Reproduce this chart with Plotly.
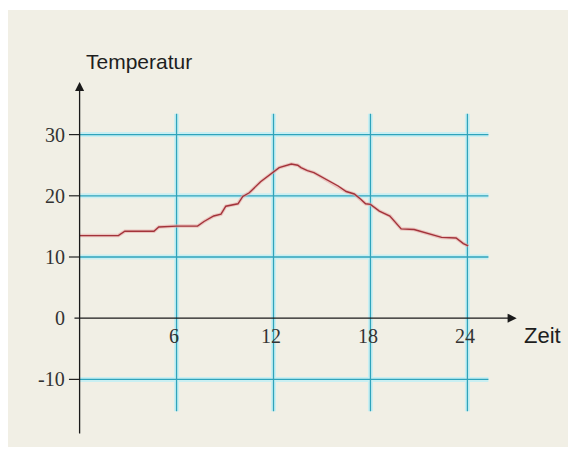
import plotly.graph_objects as go

# ---- data ----
hours = [0, 2.4, 2.8, 4.6, 4.9, 6, 7.3, 7.7, 8.3, 8.75, 9.05, 9.8, 10.1, 10.5, 11.2,
         11.95, 12.35, 13.1, 13.5, 13.7, 14.1, 14.5, 15.1, 16.0, 16.5, 17.0, 17.4,
         17.7, 18.0, 18.55, 19.2, 19.9, 20.7, 21.6, 22.4, 23.3, 23.75, 24.05]
temps = [13.5, 13.5, 14.2, 14.2, 14.9, 15.05, 15.05, 15.8, 16.7, 17.0, 18.3, 18.7,
         19.9, 20.5, 22.3, 23.9, 24.6, 25.2, 25.0, 24.6, 24.1, 23.8, 22.9, 21.6,
         20.7, 20.3, 19.45, 18.7, 18.6, 17.5, 16.7, 14.6, 14.5, 13.8, 13.2, 13.1,
         12.2, 11.8]
x_ticks = [6, 12, 18, 24]
x_tick_labels = ["6", "12", "18", "24"]
y_ticks = [30, 20, 10, 0, -10]
y_tick_labels = ["30", "20", "10", "0", "-10"]
y_grid = [30, 20, 10, -10]
x_title = "Zeit"
y_title = "Temperatur"

# ---- styling / geometry ----
W, H = 568, 442   # page body has an 8px margin
X_RANGE = [-4.431, 30.72]
Y_RANGE = [-21.54, 50.69]
GRID_X_END = 25.3
GRID_Y_TOP = 33.4
GRID_Y_BOT = -15.2
GRID_HALO = "#c9eff2"
GRID_COLOR = "#2fa3bb"
CURVE_COLOR = "#a3333a"
BG = "#f1efe5"
SERIF = "Liberation Serif"
SANS = "Liberation Sans"

fig = go.Figure()

# gridlines (halo + line)
gx, gy = [], []
for v in y_grid:
    gx += [0, GRID_X_END, None]
    gy += [v, v, None]
for h in x_ticks:
    gx += [h, h, None]
    gy += [GRID_Y_TOP, GRID_Y_BOT, None]
fig.add_trace(go.Scatter(x=gx, y=gy, mode="lines", hoverinfo="skip",
                         line=dict(color=GRID_HALO, width=5)))
fig.add_trace(go.Scatter(x=gx, y=gy, mode="lines", hoverinfo="skip",
                         line=dict(color=GRID_COLOR, width=1.3)))

# y tick marks
tx, ty = [], []
for v in y_ticks:
    if v != 0:
        tx += [-0.66, 0, None]
        ty += [v, v, None]
fig.add_trace(go.Scatter(x=tx, y=ty, mode="lines", hoverinfo="skip",
                         line=dict(color="#222222", width=1.2)))

# temperature curve
fig.add_trace(go.Scatter(x=hours, y=temps, mode="lines", hoverinfo="skip",
                         line=dict(color="#e7a9a6", width=3.5), opacity=0.6))
fig.add_trace(go.Scatter(x=hours, y=temps, mode="lines",
                         line=dict(color=CURVE_COLOR, width=1.4)))

annotations = []
# axes with arrows
annotations.append(dict(x=0, y=38.6, ax=0, ay=-19.1, xref="x", yref="y",
                        axref="x", ayref="y", text="", showarrow=True,
                        arrowhead=2, arrowsize=1.4, arrowwidth=1.3,
                        arrowcolor="#1a1a1a", standoff=0, startstandoff=0))
annotations.append(dict(x=27.05, y=0, ax=-0.41, ay=0, xref="x", yref="y",
                        axref="x", ayref="y", text="", showarrow=True,
                        arrowhead=2, arrowsize=1.4, arrowwidth=1.3,
                        arrowcolor="#1a1a1a", standoff=0, startstandoff=0))
# tick labels
for v, lab in zip(y_ticks, y_tick_labels):
    annotations.append(dict(x=-0.78, y=v, xref="x", yref="y", text=lab,
                            showarrow=False, xanchor="right", yanchor="middle",
                            font=dict(family=SERIF, size=20, color="#333333")))
for h, lab in zip(x_ticks, x_tick_labels):
    annotations.append(dict(x=h - 0.15, y=-2.9, xref="x", yref="y", text=lab,
                            showarrow=False, xanchor="center", yanchor="middle",
                            font=dict(family=SERIF, size=20, color="#333333")))
# axis titles
annotations.append(dict(x=0.28, y=41.9, xref="x", yref="y", text=y_title,
                        showarrow=False, xanchor="left", yanchor="middle",
                        font=dict(family=SANS, size=21, color="#1e1e1e")))
annotations.append(dict(x=27.36, y=-2.9, xref="x", yref="y", text=x_title,
                        showarrow=False, xanchor="left", yanchor="middle",
                        font=dict(family=SANS, size=22, color="#1e1e1e")))

fig.update_layout(
    width=W, height=H, autosize=False,
    margin=dict(l=0, r=0, t=0, b=0),
    paper_bgcolor="white", plot_bgcolor="white",
    showlegend=False,
    xaxis=dict(range=X_RANGE, visible=False, fixedrange=True),
    yaxis=dict(range=Y_RANGE, visible=False, fixedrange=True),
    annotations=annotations,
    shapes=[dict(type="rect", xref="paper", yref="paper",
                 x0=0, x1=1, y0=1 - 439 / H, y1=1 - 2 / H,
                 fillcolor=BG, line=dict(width=0), layer="below")],
)

fig.write_html("out.html")
